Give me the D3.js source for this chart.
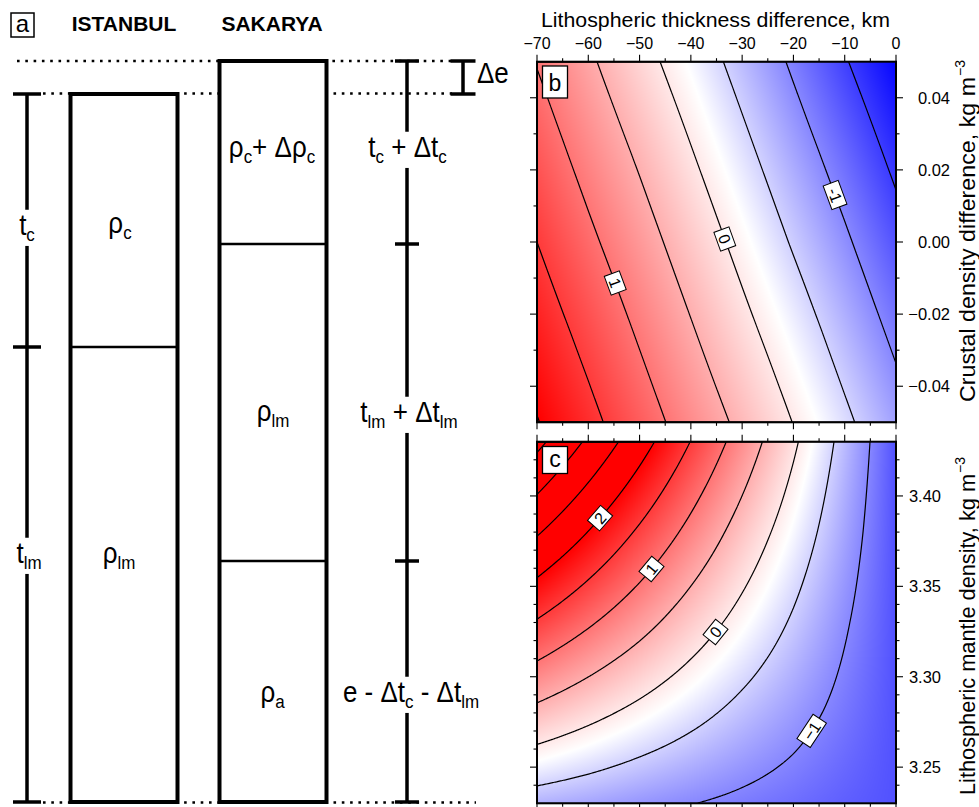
<!DOCTYPE html>
<html>
<head>
<meta charset="utf-8">
<script src="https://cdn.jsdelivr.net/npm/d3@7"></script>
<style>
  body { margin: 0; background: #fff; }
  svg { display: block; }
  text { font-family: "Liberation Sans", Arial, Helvetica, sans-serif; fill: #000; }
</style>
</head>
<body>
<svg id="fig" width="979" height="807"></svg>
<script>
// ---------------- data ----------------
// lithospheric thickness difference (km), grid columns shared by panels b and c
const thicknessDiff = [-70, -60, -50, -40, -30, -20, -10, 0];

// panel b: rows of crustal density difference, elevation difference values
const crustDensityRows = [0.05, 0.025, 0, -0.025, -0.05];
const elevationB = [
  [0.98, 0.57, 0.16, -0.24, -0.65, -1.06, -1.47, -1.87],
  [1.24, 0.83, 0.43, 0.02, -0.39, -0.80, -1.20, -1.61],
  [1.50, 1.09, 0.69, 0.28, -0.13, -0.54, -0.94, -1.35],
  [1.76, 1.36, 0.95, 0.54, 0.13, -0.27, -0.68, -1.09],
  [2.02, 1.62, 1.21, 0.80, 0.40, -0.01, -0.42, -0.83]
];

// panel c: rows of lithospheric mantle density, elevation difference values
const mantleDensityRows = [3.43, 3.38, 3.33, 3.28, 3.23];
const elevationC = [
  [3.63, 2.92, 2.21, 1.49, 0.78, 0.07, -0.65, -1.36],
  [2.55, 1.99, 1.43, 0.87, 0.31, -0.24, -0.80, -1.36],
  [1.46, 1.06, 0.66, 0.25, -0.15, -0.55, -0.96, -1.36],
  [0.38, 0.13, -0.12, -0.37, -0.62, -0.86, -1.11, -1.36],
  [-0.71, -0.80, -0.90, -0.99, -1.08, -1.17, -1.27, -1.36]
];

const levelsB = [-1.5, -1, -0.5, 0, 0.5, 1, 1.5, 2];
const levelsC = [-1, -0.5, 0, 0.5, 1, 1.5, 2, 2.5, 3, 3.5];

// colour palette stops (blue - white - red)
const paletteStops = [-1.9, -0.2, 2.0];

// labelled contours: level and position along the line
const contourLabelsB = [
  { level: 1, x: -55.1, y: -0.0115 },
  { level: 0, x: -33.3, y: 0.001 },
  { level: -1, x: -12.2, y: 0.013 }
];
const contourLabelsC = [
  { level: 2, x: -57.4, y: 3.387 },
  { level: 1, x: -47.3, y: 3.359 },
  { level: 0, x: -34.8, y: 3.324 },
  { level: -1, x: -15.9, y: 3.269 }
];

// ticks
const xMajorTicks = [-70, -60, -50, -40, -30, -20, -10, 0];
const xMinorTicks = [-65, -55, -45, -35, -25, -15, -5];
const bMajorTicks = [-0.04, -0.02, 0, 0.02, 0.04];
const bMinorTicks = [-0.03, -0.01, 0.01, 0.03];
const cMajorTicks = [3.25, 3.30, 3.35, 3.40];
const cMinorTicks = [3.24, 3.26, 3.27, 3.28, 3.29, 3.31, 3.32, 3.33, 3.34, 3.36, 3.37, 3.38, 3.39, 3.41, 3.42];

// panel a text
const columnTitles = [{ text: "ISTANBUL", x: 124 }, { text: "SAKARYA", x: 272 }];
const layerLabels = [
  { text: "ρ_{c}", x: 120, y: 233 },
  { text: "ρ_{lm}", x: 119, y: 563 },
  { text: "ρ_{c}+ Δρ_{c}", x: 272, y: 157 },
  { text: "ρ_{lm}", x: 273, y: 421 },
  { text: "ρ_{a}", x: 272.5, y: 702 }
];
const thicknessLabels = [
  { text: "t_{c}", x: 27, y: 235 },
  { text: "t_{lm}", x: 29, y: 563 },
  { text: "t_{c} + Δt_{c}", x: 407.5, y: 157 },
  { text: "t_{lm} + Δt_{lm}", x: 409, y: 422 },
  { text: "e - Δt_{c} - Δt_{lm}", x: 411, y: 702 }
];

// ---------------- drawing ----------------
const svg = d3.select("#fig");
const FONT_MAIN = 26, FONT_SUB = 17, STRETCH = 1.12;

// text with subscripts written as _{...}
function richText(parent, x, y, str, opts = {}) {
  const size = opts.size || FONT_MAIN, sub = opts.sub || FONT_SUB;
  const g = parent.append("g")
    .attr("transform", `translate(${x},${y}) scale(1,${opts.sy || STRETCH})`);
  const t = g.append("text").attr("text-anchor", opts.anchor || "middle").attr("font-size", size);
  const parts = str.split(/(_\{[^}]*\})/).filter(s => s.length);
  let down = false;
  parts.forEach(p => {
    const isSub = p.startsWith("_{");
    const ts = t.append("tspan").text(isSub ? p.slice(2, -1) : p);
    if (isSub) {
      ts.attr("font-size", sub);
      if (!down) { ts.attr("dy", 5); down = true; }
    } else if (down) { ts.attr("dy", -5); down = false; }
  });
  return { g, t };
}

// ---- panel a ----
const pa = svg.append("g");
const A = {
  top: 61, istTop: 94, base: 802,
  istX: [70.5, 177.5], sakX: [219.5, 326.5],
  istMoho: 347, sakMoho: 244, sakLab: 561,
  leftBar: 27, rightBar: 407, deBar: 463
};

// dotted reference levels
const dotted = [
  { y: A.top, x1: 17, x2: 452 },
  { y: 93.5, x1: 43, x2: 452 },
  { y: A.base + 0.5, x1: 43, x2: 476 }
];
dotted.forEach(d => pa.append("line")
  .attr("x1", d.x1).attr("x2", d.x2).attr("y1", d.y).attr("y2", d.y)
  .attr("stroke", "#000").attr("stroke-width", 2.6).attr("stroke-dasharray", "2.6 5.7"));

// columns
pa.append("rect").attr("x", A.istX[0]).attr("y", A.istTop)
  .attr("width", A.istX[1] - A.istX[0]).attr("height", A.base - A.istTop)
  .attr("fill", "#fff").attr("stroke", "#000").attr("stroke-width", 4);
pa.append("rect").attr("x", A.sakX[0]).attr("y", A.top)
  .attr("width", A.sakX[1] - A.sakX[0]).attr("height", A.base - A.top)
  .attr("fill", "#fff").attr("stroke", "#000").attr("stroke-width", 4);
[[A.istX, A.istMoho], [A.sakX, A.sakMoho], [A.sakX, A.sakLab]].forEach(([xs, y]) =>
  pa.append("line").attr("x1", xs[0]).attr("x2", xs[1]).attr("y1", y).attr("y2", y)
    .attr("stroke", "#000").attr("stroke-width", 2.5));

// thickness brackets
function bracket(x, ys, half) {
  pa.append("line").attr("x1", x).attr("x2", x).attr("y1", ys[0]).attr("y2", ys[ys.length - 1])
    .attr("stroke", "#000").attr("stroke-width", 3.5);
  ys.forEach(y => pa.append("line").attr("x1", x - half).attr("x2", x + half)
    .attr("y1", y).attr("y2", y).attr("stroke", "#000").attr("stroke-width", 3.5));
}
bracket(A.leftBar, [A.istTop, A.istMoho, A.base], 14);
bracket(A.rightBar, [A.top, A.sakMoho, A.sakLab, A.base], 12);
bracket(A.deBar, [A.top, A.istTop], 12.5);

// labels
columnTitles.forEach(c => pa.append("text").attr("x", c.x).attr("y", 31)
  .attr("text-anchor", "middle").attr("font-size", 21).attr("font-weight", "bold").text(c.text));
pa.append("rect").attr("x", 11).attr("y", 13).attr("width", 23).attr("height", 24)
  .attr("fill", "#fff").attr("stroke", "#000").attr("stroke-width", 1.5);
pa.append("text").attr("x", 22.5).attr("y", 32).attr("text-anchor", "middle")
  .attr("font-size", 24).text("a");

layerLabels.forEach(l => richText(pa, l.x, l.y, l.text));
thicknessLabels.forEach(l => {
  const { g, t } = richText(pa, l.x, l.y, l.text);
  const bb = t.node().getBBox();
  g.insert("rect", "text").attr("x", bb.x - 1).attr("y", bb.y + 1)
    .attr("width", bb.width + 2).attr("height", bb.height).attr("fill", "#fff");
});
richText(pa, 477, 83, "Δe", { anchor: "start" });

// ---- panels b and c ----
const X0 = 537, X1 = 896;
const xScale = d3.scaleLinear().domain([-70, 0]).range([X0, X1]);
const yScaleB = d3.scaleLinear().domain([-0.05, 0.05]).range([422.3, 61.7]);
const yScaleC = d3.scaleLinear().domain([3.23, 3.43]).range([803.3, 441.7]);
const colour = d3.scaleLinear().domain(paletteStops)
  .range(["#0000ff", "#ffffff", "#ff0000"]).clamp(true);

// bilinear lookup in a value table (xs ascending, ys descending)
function field(grid, xs, ys, x, y) {
  let i = d3.bisectRight(xs, x) - 1;
  i = Math.max(0, Math.min(xs.length - 2, i));
  let j = 0;
  while (j < ys.length - 2 && y < ys[j + 1]) j++;
  const tx = (x - xs[i]) / (xs[i + 1] - xs[i]);
  const ty = (y - ys[j]) / (ys[j + 1] - ys[j]);
  return grid[j][i] * (1 - tx) * (1 - ty) + grid[j][i + 1] * tx * (1 - ty)
       + grid[j + 1][i] * (1 - tx) * ty + grid[j + 1][i + 1] * tx * ty;
}

const defs = svg.append("defs");

function drawPanel(cfg) {
  const { id, yScale, rows, grid, levels, labels, minusGlyph } = cfg;
  const y0 = yScale.range()[1], y1 = yScale.range()[0];
  const W = X1 - X0, H = y1 - y0;
  const n = Math.round(W), m = Math.round(H);
  const sx = W / n, sy = H / m;
  const values = new Float64Array(n * m);
  for (let j = 0; j < m; j++) {
    const yv = yScale.invert(y0 + (j + 0.5) * sy);
    for (let i = 0; i < n; i++) {
      const xv = xScale.invert(X0 + (i + 0.5) * sx);
      values[j * n + i] = field(grid, thicknessDiff, rows, xv, yv);
    }
  }
  // colour image
  const canvas = document.createElement("canvas");
  canvas.width = n; canvas.height = m;
  const ctx = canvas.getContext("2d");
  const img = ctx.createImageData(n, m);
  for (let k = 0; k < n * m; k++) {
    const c = d3.rgb(colour(values[k]));
    img.data[4 * k] = c.r; img.data[4 * k + 1] = c.g; img.data[4 * k + 2] = c.b; img.data[4 * k + 3] = 255;
  }
  ctx.putImageData(img, 0, 0);

  defs.append("clipPath").attr("id", "clip-" + id).append("rect")
    .attr("x", X0).attr("y", y0).attr("width", W).attr("height", H);
  const g = svg.append("g");
  g.append("image").attr("href", canvas.toDataURL())
    .attr("x", X0).attr("y", y0).attr("width", W).attr("height", H)
    .attr("preserveAspectRatio", "none");

  // contour lines
  const contours = d3.contours().size([n, m]).thresholds(levels)(values);
  const lineG = g.append("g").attr("clip-path", `url(#clip-${id})`);
  contours.forEach(c => {
    let dstr = "";
    c.coordinates.forEach(poly => poly.forEach(ring => {
      dstr += "M" + ring.map(p => [(X0 + p[0] * sx).toFixed(2), (y0 + p[1] * sy).toFixed(2)].join(",")).join("L") + "Z";
    }));
    lineG.append("path").attr("d", dstr).attr("fill", "none")
      .attr("stroke", "#000").attr("stroke-width", 1.2);
  });

  // contour labels, oriented along the local line direction
  labels.forEach(lb => {
    const c = contours.find(cc => Math.abs(cc.value - lb.level) < 1e-9);
    const tx = xScale(lb.x), ty = yScale(lb.y);
    let best = null, bestD = Infinity;
    c.coordinates.forEach(poly => poly.forEach(ring => {
      for (let k = 0; k < ring.length; k++) {
        const p = ring[k];
        if (p[0] <= 0.5 || p[0] >= n - 0.5 || p[1] <= 0.5 || p[1] >= m - 0.5) continue;
        const px = X0 + p[0] * sx, py = y0 + p[1] * sy;
        const d = (px - tx) ** 2 + (py - ty) ** 2;
        if (d < bestD) { bestD = d; best = { ring, k, px, py }; }
      }
    }));
    const r = best.ring;
    const a = r[Math.max(0, best.k - 5)], b = r[Math.min(r.length - 1, best.k + 5)];
    let ang = Math.atan2((b[1] - a[1]) * sy, (b[0] - a[0]) * sx) * 180 / Math.PI;
    if (ang > 90) ang -= 180;
    if (ang < -90) ang += 180;
    const txt = lb.level < 0 ? minusGlyph + Math.abs(lb.level) : String(lb.level);
    const lg = g.append("g").attr("transform", `translate(${best.px},${best.py}) rotate(${ang})`);
    const t = lg.append("text").attr("text-anchor", "middle").attr("y", 5.8)
      .attr("font-size", 16).text(txt);
    const w = t.node().getComputedTextLength() + 11;
    lg.insert("rect", "text").attr("x", -w / 2).attr("y", -8).attr("width", w).attr("height", 16)
      .attr("fill", "#fff").attr("stroke", "#000").attr("stroke-width", 1);
  });

  // frame
  g.append("rect").attr("x", X0).attr("y", y0).attr("width", W).attr("height", H)
    .attr("fill", "none").attr("stroke", "#000").attr("stroke-width", 2);

  // ticks on all four sides, pointing outwards
  const tk = g.append("g").attr("stroke", "#000").attr("stroke-width", 1.1);
  const xt = (vals, len) => vals.forEach(v => {
    const x = xScale(v);
    tk.append("line").attr("x1", x).attr("x2", x).attr("y1", y0).attr("y2", y0 - len);
    tk.append("line").attr("x1", x).attr("x2", x).attr("y1", y1).attr("y2", y1 + len);
  });
  const yt = (vals, len) => vals.forEach(v => {
    const y = yScale(v);
    tk.append("line").attr("x1", X0).attr("x2", X0 - len).attr("y1", y).attr("y2", y);
    tk.append("line").attr("x1", X1).attr("x2", X1 + len).attr("y1", y).attr("y2", y);
  });
  xt(cfg.xMajor, 7); xt(cfg.xMinor, 3.5);
  yt(cfg.yMajor, 7); yt(cfg.yMinor, 3.5);

  // tick labels on the right
  cfg.yMajor.forEach(v => g.append("text").attr("x", cfg.labelRight).attr("y", yScale(v) + 6)
    .attr("text-anchor", "end").attr("font-size", 16.5).text(cfg.fmt(v)));

  // panel letter
  g.append("rect").attr("x", 542.5).attr("y", cfg.box[0]).attr("width", 25).attr("height", cfg.box[1])
    .attr("fill", "#fff").attr("stroke", "#000").attr("stroke-width", 1.3);
  g.append("text").attr("x", 555).attr("y", cfg.box[2]).attr("text-anchor", "middle")
    .attr("font-size", 23).text(id);
  return g;
}

const fmtSigned = f => v => (v < 0 ? "\u2212" : "") + d3.format(f)(Math.abs(v));

drawPanel({
  id: "b", yScale: yScaleB, rows: crustDensityRows, grid: elevationB,
  levels: levelsB, labels: contourLabelsB, minusGlyph: "-",
  xMajor: xMajorTicks, xMinor: xMinorTicks, yMajor: bMajorTicks, yMinor: bMinorTicks,
  labelRight: 950, fmt: fmtSigned(".2f"), box: [66, 32, 91]
});
drawPanel({
  id: "c", yScale: yScaleC, rows: mantleDensityRows, grid: elevationC,
  levels: levelsC, labels: contourLabelsC, minusGlyph: "\u2212",
  xMajor: xMajorTicks, xMinor: xMinorTicks, yMajor: cMajorTicks, yMinor: cMinorTicks,
  labelRight: 941, fmt: fmtSigned(".2f"), box: [446.5, 27, 467]
});

// top axis labels
xMajorTicks.forEach(v => svg.append("text").attr("x", xScale(v)).attr("y", 49)
  .attr("text-anchor", "middle").attr("font-size", 16).text(fmtSigned("d")(v)));
svg.append("text").attr("x", 541).attr("y", 27).attr("font-size", 21)
  .attr("textLength", 349).attr("lengthAdjust", "spacingAndGlyphs")
  .text("Lithospheric thickness difference, km");

// right axis titles (rotated, reading upwards, with kg m^-3 unit)
function axisTitle(yStart, len, str) {
  const g = svg.append("g").attr("transform", `translate(975,${yStart}) rotate(-90)`);
  g.append("text").attr("x", 0).attr("y", 0).attr("font-size", 21.5)
    .attr("textLength", len).attr("lengthAdjust", "spacingAndGlyphs").text(str);
  g.append("text").attr("x", len + 1).attr("y", -10).attr("font-size", 14).text("\u22123");
}
axisTitle(402, 325, "Crustal density difference, kg m");
axisTitle(795, 321, "Lithospheric mantle density, kg m");
</script>
</body>
</html>
